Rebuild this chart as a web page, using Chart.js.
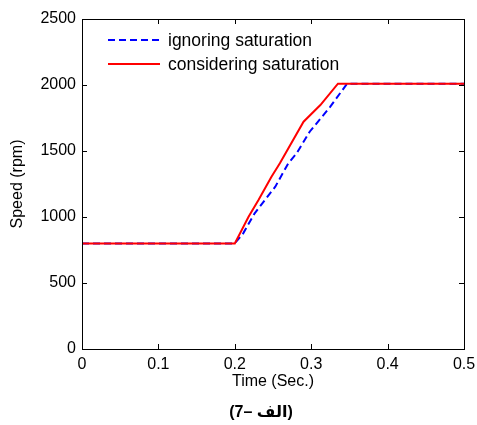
<!DOCTYPE html>
<html>
<head>
<meta charset="utf-8">
<script src="https://cdn.jsdelivr.net/npm/chart.js@4/dist/chart.umd.min.js"></script>
<style>
  html, body { margin: 0; padding: 0; background: #fff; }
  #wrap { width: 477px; height: 425px; }
</style>
</head>
<body>
<div id="wrap"><canvas id="speed"></canvas></div>
<script>
// values
var timeIgnoring = [0, 0.2, 0.211, 0.226, 0.253, 0.27, 0.281, 0.298, 0.325, 0.347, 0.5];
var speedIgnoring = [800, 800, 876, 1028, 1230, 1407, 1483, 1646, 1836, 2010, 2010];

var timeConsidering = [0, 0.2, 0.218, 0.231, 0.248, 0.259, 0.29, 0.312, 0.335, 0.5];
var speedConsidering = [800, 800, 1002, 1129, 1305, 1407, 1722, 1848, 2010, 2010];

var seriesNames = ["ignoring saturation", "considering saturation"];
var xTicks = [0, 0.1, 0.2, 0.3, 0.4, 0.5];
var yTicks = [0, 500, 1000, 1500, 2000, 2500];

// caption pieces, drawn one after another left to right so bidi can't reorder them
var captionParts = ["(7–", " ", "الف", ")"];

function toPoints(xs, ys) {
    var pts = [];
    for (var i = 0; i < xs.length; i++) pts.push({ x: xs[i], y: ys[i] });
    return pts;
}

// box round the plot with inward ticks on every side (matlab style)
var frame = {
    id: "frame",
    afterDraw: function (chart) {
        var c = chart.ctx, a = chart.chartArea;
        var sx = chart.scales.x, sy = chart.scales.y;
        c.save();
        c.strokeStyle = "#000";
        c.lineWidth = 1;
        c.strokeRect(Math.round(a.left) + 0.5, Math.round(a.top) + 0.5,
            Math.round(a.right - a.left), Math.round(a.bottom - a.top));
        c.beginPath();
        xTicks.forEach(function (t) {
            var px = Math.round(sx.getPixelForValue(t)) + 0.5;
            c.moveTo(px, a.bottom); c.lineTo(px, a.bottom - 5);
            c.moveTo(px, a.top); c.lineTo(px, a.top + 5);
        });
        yTicks.forEach(function (t) {
            var py = Math.round(sy.getPixelForValue(t)) + 0.5;
            c.moveTo(a.left, py); c.lineTo(a.left + 5, py);
            c.moveTo(a.right, py); c.lineTo(a.right - 5, py);
        });
        c.stroke();
        c.restore();
    }
};

// legend sits inside the axes, top left
var insideLegend = {
    id: "insideLegend",
    afterDraw: function (chart) {
        var c = chart.ctx, a = chart.chartArea;
        c.save();
        c.font = "17.5px 'Liberation Sans', Arial, sans-serif";
        c.textBaseline = "middle";
        chart.data.datasets.forEach(function (ds, i) {
            var y = a.top + 21 + i * 24;
            var x0 = a.left + 26;
            c.strokeStyle = ds.borderColor;
            c.lineWidth = 2;
            c.setLineDash(ds.borderDash || []);
            c.beginPath();
            c.moveTo(x0, y); c.lineTo(x0 + 52, y);
            c.stroke();
            c.setLineDash([]);
            c.fillStyle = "#000";
            c.fillText(ds.label, x0 + 60, y + 1);
        });
        c.restore();
    }
};

// figure caption under the axes
var figCaption = {
    id: "figCaption",
    afterDraw: function (chart) {
        var c = chart.ctx, a = chart.chartArea;
        c.save();
        c.direction = "ltr";
        c.font = "bold 16px 'Liberation Sans', 'DejaVu Sans', sans-serif";
        c.textBaseline = "middle";
        c.textAlign = "left";
        c.fillStyle = "#000";
        var widths = captionParts.map(function (p) { return c.measureText(p).width; });
        var total = widths.reduce(function (s, w) { return s + w; }, 0);
        var x = (a.left + a.right) / 2 - 12 - total / 2;
        var y = a.bottom + 64;
        captionParts.forEach(function (p, i) {
            c.fillText(p, x, y);
            x += widths[i];
        });
        c.restore();
    }
};

var ctx = document.getElementById("speed").getContext("2d");
var chart = new Chart(ctx, {
    type: "line",
    data: {
        datasets: [
            {
                label: seriesNames[0],
                data: toPoints(timeIgnoring, speedIgnoring),
                borderColor: "#0000ff",
                borderWidth: 2,
                borderDash: [7, 4],
                pointRadius: 0,
                tension: 0,
                order: 2
            },
            {
                label: seriesNames[1],
                data: toPoints(timeConsidering, speedConsidering),
                borderColor: "#ff0000",
                borderWidth: 2,
                pointRadius: 0,
                tension: 0,
                order: 1
            }
        ]
    },
    options: {
        responsive: true,
        maintainAspectRatio: false,
        animation: false,
        layout: { padding: { left: 0, right: 13, top: 19, bottom: 33 } },
        plugins: {
            legend: { display: false },
            tooltip: { enabled: false },
            title: { display: false }
        },
        scales: {
            x: {
                type: "linear",
                min: 0, max: 0.5,
                afterBuildTicks: function (s) { s.ticks = xTicks.map(function (v) { return { value: v }; }); },
                afterFit: function (s) { s.height = 43; s.paddingLeft = 0; s.paddingRight = 0; },
                ticks: {
                    color: "#000",
                    font: { family: "'Liberation Sans', Arial, sans-serif", size: 16 },
                    padding: 6,
                    maxRotation: 0,
                    callback: function (v) { return String(Math.round(v * 10) / 10); }
                },
                grid: { display: false, drawTicks: false, tickLength: 0 },
                border: { display: false },
                title: {
                    display: true,
                    text: "Time (Sec.)",
                    color: "#000",
                    font: { family: "'Liberation Sans', Arial, sans-serif", size: 16 },
                    padding: { top: 0, bottom: 1 }
                }
            },
            y: {
                min: 0, max: 2500,
                afterBuildTicks: function (s) { s.ticks = yTicks.map(function (v) { return { value: v }; }); },
                afterFit: function (s) { s.width = 82; s.paddingTop = 0; s.paddingBottom = 0; },
                ticks: {
                    color: "#000",
                    font: { family: "'Liberation Sans', Arial, sans-serif", size: 16 },
                    padding: 6,
                    callback: function (v) { return String(v); }
                },
                grid: { display: false, drawTicks: false, tickLength: 0 },
                border: { display: false },
                title: {
                    display: true,
                    text: "Speed (rpm)",
                    color: "#000",
                    font: { family: "'Liberation Sans', Arial, sans-serif", size: 16 },
                    padding: { top: 8, bottom: 0 }
                }
            }
        }
    },
    plugins: [frame, insideLegend, figCaption]
});
</script>
</body>
</html>
